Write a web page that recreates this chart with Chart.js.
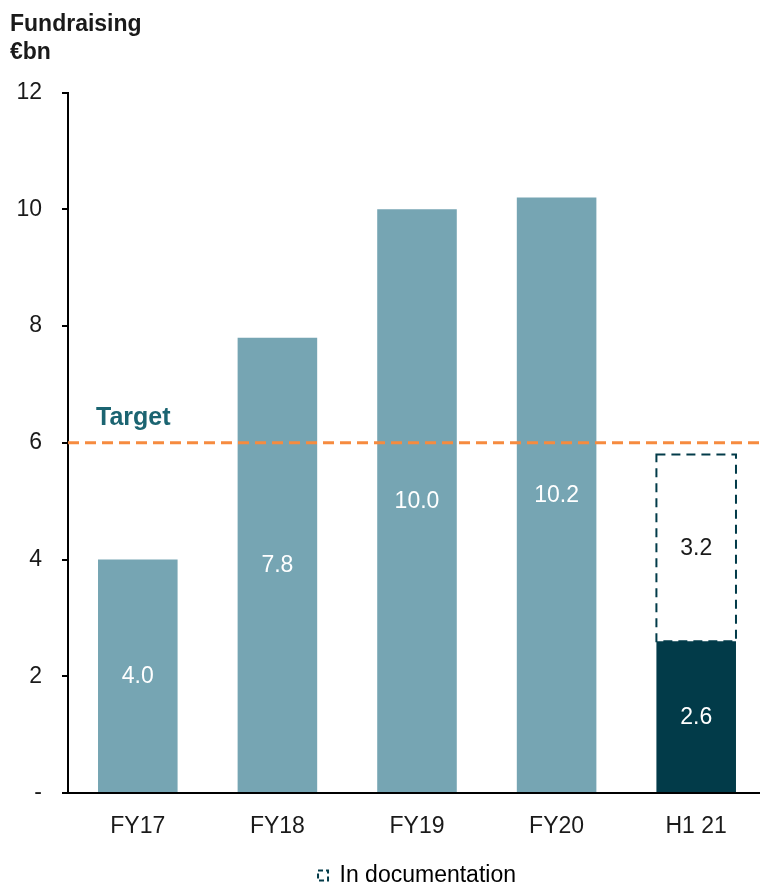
<!DOCTYPE html>
<html>
<head>
<meta charset="utf-8">
<script src="https://cdn.jsdelivr.net/npm/chart.js@4.4.0/dist/chart.umd.min.js"></script>
<style>
  html, body { margin: 0; padding: 0; background: #fff; overflow: hidden; }
  #wrap { width: 766px; height: 885px; }
</style>
</head>
<body>
<div id="wrap"><canvas id="chartgraph" width="766" height="885"></canvas></div>
<script>
var categories = ['FY17', 'FY18', 'FY19', 'FY20', 'H1 21'];
var closedValues = [4.0, 7.8, 10.0, 10.2, 2.6];
var documentationValues = [null, null, null, null, 3.2];
var targetValue = 6;
var yTicks = [0, 2, 4, 6, 8, 10, 12];

var FONT = '"Liberation Sans", Arial, sans-serif';
var lightTeal = '#76A5B3';
var darkTeal = '#023B49';

// bar colors: last bar (H1 21) dark
var barColors = closedValues.map(function(v, i) {
  return i === closedValues.length - 1 ? darkTeal : lightTeal;
});

// draws dashed box, value labels and target line
var overlayPlugin = {
  id: 'overlay',
  afterDatasetsDraw: function(chart) {
    var ctx = chart.ctx;
    var yScale = chart.scales.y;
    var area = chart.chartArea;

    // target line
    var ty = yScale.getPixelForValue(targetValue);
    ctx.save();
    ctx.strokeStyle = '#F68B3F';
    ctx.lineWidth = 3;
    ctx.setLineDash([11, 6]);
    ctx.beginPath();
    ctx.moveTo(area.left, ty);
    ctx.lineTo(area.right, ty);
    ctx.stroke();
    ctx.setLineDash([]);
    ctx.fillStyle = '#1B6471';
    ctx.font = 'bold 25px ' + FONT;
    ctx.textAlign = 'left';
    ctx.textBaseline = 'middle';
    ctx.fillText('Target', area.left + 28, ty - 25);
    ctx.restore();

    // dashed "in documentation" box
    var meta1 = chart.getDatasetMeta(1);
    meta1.data.forEach(function(bar, i) {
      if (documentationValues[i] == null) return;
      var p = bar.getProps(['x', 'y', 'base', 'width'], true);
      ctx.save();
      ctx.strokeStyle = darkTeal;
      ctx.lineWidth = 2;
      ctx.setLineDash([9, 6]);
      ctx.strokeRect(p.x - p.width / 2, p.y, p.width, p.base - p.y);
      ctx.restore();
    });

    // value labels
    ctx.save();
    ctx.font = '23px ' + FONT;
    ctx.textAlign = 'center';
    ctx.textBaseline = 'middle';
    [0, 1].forEach(function(di) {
      var meta = chart.getDatasetMeta(di);
      var vals = chart.data.datasets[di].data;
      meta.data.forEach(function(bar, i) {
        if (vals[i] == null) return;
        var p = bar.getProps(['x', 'y', 'base'], true);
        ctx.fillStyle = di === 0 ? '#FFFFFF' : '#1A1A1A';
        ctx.fillText(vals[i].toFixed(1), p.x, (p.y + p.base) / 2 + 1);
      });
    });
    ctx.restore();
  }
};

var ctx = document.getElementById('chartgraph').getContext('2d');

var chart = new Chart(ctx, {
  type: 'bar',
  data: {
    labels: categories,
    datasets: [{
      label: 'Closed',
      data: closedValues,
      backgroundColor: barColors,
      borderWidth: 0,
      barPercentage: 0.57,
      categoryPercentage: 1.0,
      stack: 's'
    }, {
      label: 'In documentation',
      data: documentationValues,
      backgroundColor: 'rgba(0,0,0,0)',
      borderWidth: 0,
      barPercentage: 0.57,
      categoryPercentage: 1.0,
      stack: 's'
    }]
  },
  options: {
    responsive: false,
    animation: false,
    layout: { padding: { left: 10, right: 0, top: 0, bottom: -12 } },
    plugins: {
      tooltip: { enabled: false },
      title: {
        display: true,
        text: ['Fundraising', '€bn'],
        align: 'start',
        color: '#1A1A1A',
        font: { family: FONT, size: 23, weight: 'bold', lineHeight: 1.25 },
        padding: { top: 10, bottom: 25 }
      },
      legend: {
        display: true,
        position: 'bottom',
        fullSize: false,
        labels: {
          color: '#1A1A1A',
          font: { family: FONT, size: 23 },
          boxWidth: 10,
          boxHeight: 10,
          padding: 0,
          generateLabels: function() {
            return [{
              text: 'In documentation',
              fillStyle: 'rgba(0,0,0,0)',
              strokeStyle: darkTeal,
              lineWidth: 2,
              lineDash: [5, 3],
              datasetIndex: 1
            }];
          }
        }
      }
    },
    scales: {
      x: {
        stacked: true,
        grid: { display: false, drawTicks: false },
        border: { display: true, color: '#000', width: 2 },
        afterFit: function(scale) { scale.height = 71; },
        ticks: {
          color: '#1A1A1A',
          font: { family: FONT, size: 23 },
          padding: 20
        }
      },
      y: {
        stacked: true,
        min: 0,
        max: 12,
        afterBuildTicks: function(scale) {
          scale.ticks = yTicks.map(function(v) { return { value: v }; });
        },
        afterFit: function(scale) { scale.width = 58; },
        grid: {
          drawOnChartArea: false,
          drawTicks: true,
          tickLength: 6,
          color: '#000',
          lineWidth: 2
        },
        border: { display: true, color: '#000', width: 2 },
        ticks: {
          color: '#1A1A1A',
          font: { family: FONT, size: 23 },
          padding: 20,
          callback: function(v) { return v === 0 ? '-' : v; }
        }
      }
    }
  },
  plugins: [overlayPlugin]
});
</script>
</body>
</html>
